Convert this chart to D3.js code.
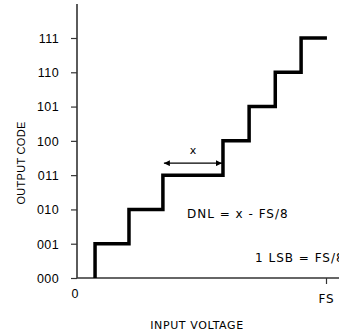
<!DOCTYPE html>
<html>
<head>
<meta charset="utf-8">
<script src="https://cdn.jsdelivr.net/npm/d3@7"></script>
<style>
  body { margin: 0; background: #fff; }
  text { font-family: "Liberation Sans", Arial, sans-serif; fill: #000; }
</style>
</head>
<body>
<div id="chart"></div>
<script>
// 数据：输出码与转换点（单位 LSB = FS/8）
const codes = ["000", "001", "010", "011", "100", "101", "110", "111"];
const transitions = [0.58, 1.67, 2.76, 4.69, 5.53, 6.37, 7.2];
const endInput = 8.03;
const xTicks = [8];
const xTickLabels = ["FS"];

const width = 339, height = 335;

const svg = d3.select("#chart").append("svg")
  .attr("width", width)
  .attr("height", height);

const x = d3.scaleLinear().domain([0, 8]).range([77, 326]);
const y = d3.scaleLinear().domain([0, 7]).range([278, 38]);

// 坐标轴
svg.append("line")
  .attr("x1", x(0)).attr("x2", x(0))
  .attr("y1", y(0)).attr("y2", y(7.99))
  .attr("stroke", "#333").attr("stroke-width", 1.6);

svg.append("line")
  .attr("x1", x(0)).attr("x2", width)
  .attr("y1", y(0)).attr("y2", y(0))
  .attr("stroke", "#333").attr("stroke-width", 1.6);

svg.append("g")
  .attr("transform", `translate(${x(0)},0)`)
  .call(d3.axisLeft(y).tickValues(d3.range(codes.length)).tickFormat(i => codes[i]).tickSize(6).tickPadding(12))
  .call(g => g.select(".domain").remove())
  .call(g => g.selectAll(".tick line").attr("stroke", "#333").attr("stroke-width", 1.2))
  .call(g => g.selectAll(".tick text")
    .style("font-family", "'Liberation Sans', Arial, sans-serif")
    .style("font-size", "12.5px")
    .style("letter-spacing", "0.4px")
    .attr("dy", "0.35em"));

svg.append("g")
  .attr("transform", `translate(0,${y(0)})`)
  .call(d3.axisBottom(x).tickValues(xTicks).tickFormat((d, i) => xTickLabels[i]).tickSize(6).tickPadding(10))
  .call(g => g.select(".domain").remove())
  .call(g => g.selectAll(".tick line").attr("stroke", "#333").attr("stroke-width", 1.2))
  .call(g => g.selectAll(".tick text")
    .style("font-family", "'DejaVu Sans', sans-serif")
    .style("font-size", "12px")
    .style("letter-spacing", "0.8px"));

svg.append("text")
  .attr("x", x(0) - 2).attr("y", y(0) + 20)
  .attr("text-anchor", "middle")
  .style("font-size", "12.5px")
  .text("0");

// 阶梯传递函数
const stepPoints = transitions.map((t, i) => [t, i]).concat([[endInput, codes.length - 1]]);
svg.append("path")
  .datum(stepPoints)
  .attr("fill", "none")
  .attr("stroke", "#000")
  .attr("stroke-width", 3.5)
  .attr("d", d3.line().x(d => x(d[0])).y(d => y(d[1])).curve(d3.curveStepBefore));

// 箭头 x
const defs = svg.append("defs");
defs.append("marker")
  .attr("id", "arrow")
  .attr("viewBox", "0 0 10 10")
  .attr("refX", 10).attr("refY", 5)
  .attr("markerWidth", 10).attr("markerHeight", 6)
  .attr("markerUnits", "userSpaceOnUse")
  .attr("orient", "auto-start-reverse")
  .append("path")
  .attr("d", "M0,0L10,5L0,10Z")
  .attr("fill", "#000");

const arrowY = y(3.35);
svg.append("line")
  .attr("x1", x(transitions[2]) + 1).attr("x2", x(transitions[3]) - 1)
  .attr("y1", arrowY).attr("y2", arrowY)
  .attr("stroke", "#000").attr("stroke-width", 1.3)
  .attr("marker-start", "url(#arrow)")
  .attr("marker-end", "url(#arrow)");

svg.append("text")
  .attr("x", (x(transitions[2]) + x(transitions[3])) / 2)
  .attr("y", arrowY - 9)
  .attr("text-anchor", "middle")
  .style("font-family", "'DejaVu Sans', sans-serif")
  .style("font-size", "11px")
  .text("x");

// 注释文字
svg.append("text")
  .attr("x", 187).attr("y", 218)
  .style("font-family", "'DejaVu Sans', sans-serif")
  .style("font-size", "12px")
  .style("letter-spacing", "1px")
  .text("DNL = x - FS/8");

svg.append("text")
  .attr("x", 255).attr("y", 262)
  .style("font-family", "'DejaVu Sans', sans-serif")
  .style("font-size", "12px")
  .style("letter-spacing", "1px")
  .text("1 LSB = FS/8");

// 坐标轴标题
svg.append("text")
  .attr("transform", `translate(25,163) rotate(-90)`)
  .attr("text-anchor", "middle")
  .style("font-size", "11px")
  .style("letter-spacing", "0.3px")
  .text("OUTPUT CODE");

svg.append("text")
  .attr("x", 197).attr("y", 329)
  .attr("text-anchor", "middle")
  .style("font-family", "'DejaVu Sans', sans-serif")
  .style("font-size", "11px")
  .style("letter-spacing", "0.6px")
  .text("INPUT VOLTAGE");
</script>
</body>
</html>
